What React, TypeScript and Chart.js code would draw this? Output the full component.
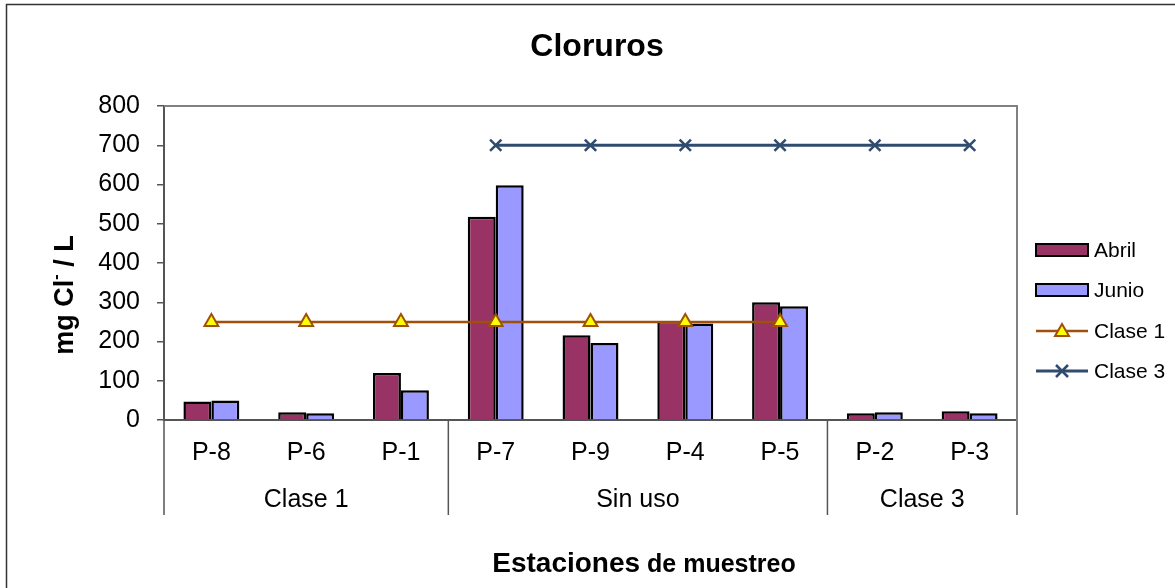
import { useEffect, useRef } from 'react';
import { Chart, registerables } from 'chart.js';

Chart.register(...registerables);

// Sampling stations, grouped by water-use class
const stations = ['P-8', 'P-6', 'P-1', 'P-7', 'P-9', 'P-4', 'P-5', 'P-2', 'P-3'];
const groupLabels = ['Clase 1', 'Sin uso', 'Clase 3'];
const groupSizes = [3, 4, 2];

// Chloride concentrations (mg Cl- / L)
const abril = [47, 20, 120, 518, 216, 252, 300, 17, 22];
const junio = [50, 17, 76, 598, 196, 246, 290, 20, 17];

// Regulatory limits per class
const clase1 = [250, 250, 250, 250, 250, 250, 250, null, null];
const clase3 = [null, null, null, 700, 700, 700, 700, 700, 700];

const yMin = 0;
const yMax = 800;
const yStep = 100;

const FONT = "'Liberation Sans', Arial, sans-serif";
const COLORS = {
  abril: '#993366',
  junio: '#9999FF',
  clase1: '#A0500A',
  clase1Marker: '#FFFF00',
  clase3: '#2F4B6E',
  axis: '#555555',
  frame: '#808080',
};

const decorations = {
  id: 'decorations',
  afterDraw(chart: any) {
    const { ctx, chartArea, scales } = chart;
    const xs = scales.x;
    const { left, right, top, bottom } = chartArea;
    ctx.save();

    // outer frame
    ctx.strokeStyle = '#333333';
    ctx.lineWidth = 1.5;
    ctx.beginPath();
    ctx.moveTo(6.5, 600);
    ctx.lineTo(6.5, 4.5);
    ctx.lineTo(1200, 4.5);
    ctx.stroke();

    // plot area border (top and right)
    ctx.strokeStyle = COLORS.frame;
    ctx.lineWidth = 2;
    ctx.beginPath();
    ctx.moveTo(left, top);
    ctx.lineTo(right, top);
    ctx.lineTo(right, bottom);
    ctx.stroke();

    // group separators below the axis
    const sepBottom = 515;
    const bounds: number[] = [left];
    let idx = 0;
    groupSizes.forEach((n, g) => {
      idx += n;
      if (g < groupSizes.length - 1) {
        bounds.push((xs.getPixelForValue(idx - 1) + xs.getPixelForValue(idx)) / 2);
      }
    });
    bounds.push(right);
    bounds.forEach((bx, i) => {
      ctx.strokeStyle = i === bounds.length - 1 ? COLORS.frame : COLORS.axis;
      ctx.lineWidth = i === bounds.length - 1 ? 2 : 1.5;
      ctx.beginPath();
      ctx.moveTo(bx, bottom);
      ctx.lineTo(bx, sepBottom);
      ctx.stroke();
    });

    // category labels
    ctx.fillStyle = '#000';
    ctx.textAlign = 'center';
    ctx.textBaseline = 'middle';
    ctx.font = `25px ${FONT}`;
    stations.forEach((s, i) => {
      ctx.fillText(s, xs.getPixelForValue(i), 453);
    });

    // group labels
    groupLabels.forEach((g, i) => {
      ctx.fillText(g, (bounds[i] + bounds[i + 1]) / 2, 500);
    });

    // title
    ctx.font = `bold 32px ${FONT}`;
    ctx.fillText('Cloruros', 597, 47);

    // x axis title
    const xt1 = 'Estaciones';
    const xt2 = ' de muestreo';
    ctx.font = `bold 28px ${FONT}`;
    const w1 = ctx.measureText(xt1).width;
    ctx.font = `bold 25px ${FONT}`;
    const w2 = ctx.measureText(xt2).width;
    const xStart = 644 - (w1 + w2) / 2;
    ctx.textAlign = 'left';
    ctx.textBaseline = 'alphabetic';
    ctx.font = `bold 28px ${FONT}`;
    ctx.fillText(xt1, xStart, 572);
    ctx.font = `bold 25px ${FONT}`;
    ctx.fillText(xt2, xStart + w1, 572);

    // y axis title with superscript
    ctx.save();
    ctx.translate(73, 295);
    ctx.rotate(-Math.PI / 2);
    const p1 = 'mg Cl';
    const sup = '-';
    const p3 = ' / L';
    ctx.font = `bold 27px ${FONT}`;
    const a = ctx.measureText(p1).width;
    const c = ctx.measureText(p3).width;
    ctx.font = `bold 16px ${FONT}`;
    const b = ctx.measureText(sup).width;
    let px = -(a + b + c) / 2;
    ctx.font = `bold 27px ${FONT}`;
    ctx.fillText(p1, px, 0);
    px += a;
    ctx.font = `bold 16px ${FONT}`;
    ctx.fillText(sup, px, -12);
    px += b;
    ctx.font = `bold 27px ${FONT}`;
    ctx.fillText(p3, px, 0);
    ctx.restore();

    // legend
    const lx0 = 1036;
    const lx1 = 1088;
    const tx = 1094;
    const rows = [250, 290, 331, 371];
    ctx.textAlign = 'left';
    ctx.textBaseline = 'middle';
    ctx.font = `21px ${FONT}`;
    chart.data.datasets.forEach((ds: any, i: number) => {
      const y = rows[i];
      if (ds.type === 'line') {
        ctx.strokeStyle = ds.borderColor;
        ctx.lineWidth = ds.borderWidth;
        ctx.beginPath();
        ctx.moveTo(lx0, y);
        ctx.lineTo(lx1, y);
        ctx.stroke();
        const mx = (lx0 + lx1) / 2;
        if (ds.pointStyle === 'triangle') {
          ctx.fillStyle = ds.pointBackgroundColor;
          ctx.strokeStyle = ds.pointBorderColor;
          ctx.lineWidth = 2;
          ctx.beginPath();
          ctx.moveTo(mx, y - 7);
          ctx.lineTo(mx + 7, y + 5);
          ctx.lineTo(mx - 7, y + 5);
          ctx.closePath();
          ctx.fill();
          ctx.stroke();
        } else {
          ctx.strokeStyle = ds.pointBorderColor;
          ctx.lineWidth = 2.5;
          ctx.beginPath();
          ctx.moveTo(mx - 6, y - 6);
          ctx.lineTo(mx + 6, y + 6);
          ctx.moveTo(mx + 6, y - 6);
          ctx.lineTo(mx - 6, y + 6);
          ctx.stroke();
        }
      } else {
        ctx.fillStyle = ds.backgroundColor;
        ctx.strokeStyle = '#000';
        ctx.lineWidth = 2;
        ctx.fillRect(lx0, y - 6, lx1 - lx0, 12);
        ctx.strokeRect(lx0, y - 6, lx1 - lx0, 12);
      }
      ctx.fillStyle = '#000';
      ctx.fillText(ds.label, tx, y + 1);
    });

    ctx.restore();
  },
};

export default function App() {
  const canvasRef = useRef<HTMLCanvasElement | null>(null);

  useEffect(() => {
    if (!canvasRef.current) return;
    const chart = new Chart(canvasRef.current, {
      type: 'bar',
      data: {
        labels: stations,
        datasets: [
          {
            type: 'bar',
            label: 'Abril',
            data: abril,
            backgroundColor: COLORS.abril,
            borderColor: '#000',
            borderWidth: 2.5,
            order: 2,
          },
          {
            type: 'bar',
            label: 'Junio',
            data: junio,
            backgroundColor: COLORS.junio,
            borderColor: '#000',
            borderWidth: 2.5,
            order: 2,
          },
          {
            type: 'line',
            label: 'Clase 1',
            data: clase1,
            borderColor: COLORS.clase1,
            borderWidth: 2.5,
            pointStyle: 'triangle',
            pointRadius: 8,
            pointBackgroundColor: COLORS.clase1Marker,
            pointBorderColor: COLORS.clase1,
            pointBorderWidth: 2,
            spanGaps: false,
            order: 1,
          },
          {
            type: 'line',
            label: 'Clase 3',
            data: clase3,
            borderColor: COLORS.clase3,
            borderWidth: 3,
            pointStyle: 'crossRot',
            pointRadius: 8,
            pointBorderColor: COLORS.clase3,
            pointBorderWidth: 2.5,
            spanGaps: false,
            order: 0,
          },
        ] as any,
      },
      options: {
        animation: false,
        responsive: false,
        devicePixelRatio: 1,
        layout: { padding: { left: 0, top: 106, right: 158, bottom: 0 } },
        plugins: {
          legend: { display: false },
          title: { display: false },
          tooltip: { enabled: false },
        },
        datasets: {
          bar: { categoryPercentage: 0.59, barPercentage: 1 },
        },
        scales: {
          x: {
            type: 'category',
            offset: true,
            grid: { display: false, drawTicks: false },
            ticks: { display: false },
            border: { display: true, color: COLORS.axis, width: 2 },
            afterFit: (scale: any) => {
              scale.height = 168;
            },
          },
          y: {
            min: yMin,
            max: yMax,
            ticks: {
              stepSize: yStep,
              color: '#000',
              padding: 17,
              font: { family: FONT, size: 25 },
            },
            grid: {
              drawOnChartArea: false,
              drawTicks: true,
              tickLength: 7,
              color: COLORS.axis,
              lineWidth: 1.5,
            },
            border: { display: true, color: COLORS.axis, width: 2 },
            afterFit: (scale: any) => {
              scale.width = 164;
            },
          },
        },
      },
      plugins: [decorations],
    });
    return () => chart.destroy();
  }, []);

  return (
    <div style={{ position: 'absolute', left: 0, top: 0, width: 1175, height: 588, background: '#fff' }}>
      <canvas ref={canvasRef} width={1175} height={588} style={{ display: 'block' }} />
    </div>
  );
}
